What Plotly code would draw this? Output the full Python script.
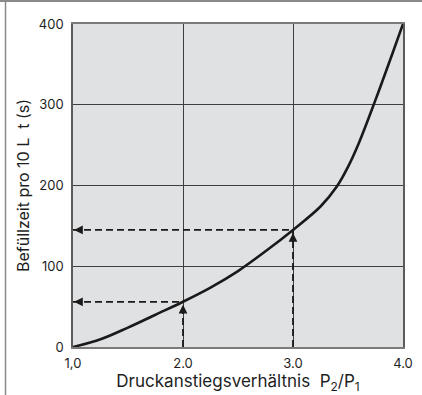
import plotly.graph_objects as go

# ---- data ----
pressure_ratio = [1.0, 1.25, 1.5, 1.75, 2.0, 2.25, 2.5, 2.75, 3.0, 3.25, 3.4, 3.5, 3.6, 3.75, 3.9, 4.0]
fill_time = [0, 9.5, 24, 40, 56, 73.5, 94, 118.5, 145, 174, 199, 223, 253, 306, 362, 400]

marked_ratio = [2.0, 3.0]
marked_time = [56, 145]

x_tickvals = [1.0, 2.0, 3.0, 4.0]
x_ticktext = ["1,0", "2.0", "3.0", "4.0"]
y_tickvals = [0, 100, 200, 300, 400]

FONT = "Inter, Liberation Sans, Arial, sans-serif"

fig = go.Figure()

# main curve
fig.add_trace(go.Scatter(
    x=pressure_ratio, y=fill_time, mode="lines",
    line=dict(color="#1a1a1a", width=2.6, shape="spline", smoothing=1.0),
    hoverinfo="skip", showlegend=False,
))

# dashed helper lines built from the marked points
hx, hy, vx, vy = [], [], [], []
for xr, t in zip(marked_ratio, marked_time):
    hx += [pressure_ratio[0], xr, None]
    hy += [t, t, None]
    vx += [xr, xr, None]
    vy += [fill_time[0], t, None]

fig.add_trace(go.Scatter(
    x=hx + vx, y=hy + vy, mode="lines",
    line=dict(color="#1a1a1a", width=1.8, dash="7px,4px"),
    hoverinfo="skip", showlegend=False,
))

annotations = []
for xr, t in zip(marked_ratio, marked_time):
    # left-pointing arrowhead at the y axis
    annotations.append(dict(x=pressure_ratio[0], y=t, xref="x", yref="y",
                            ax=10, ay=0, text="", showarrow=True,
                            arrowhead=2, arrowsize=1.1, arrowwidth=1.6,
                            arrowcolor="#1a1a1a", standoff=1))
    # upward arrowhead at the curve
    annotations.append(dict(x=xr, y=t, xref="x", yref="y",
                            ax=0, ay=10, text="", showarrow=True,
                            arrowhead=2, arrowsize=1.1, arrowwidth=1.6,
                            arrowcolor="#1a1a1a", standoff=3))

fig.update_layout(
    width=422, height=395,
    margin=dict(l=73, r=19, t=24, b=48, autoexpand=False),
    paper_bgcolor="white",
    plot_bgcolor="#e0e1e3",
    font=dict(family=FONT, size=13, color="#1e1e1e"),
    annotations=annotations,
    shapes=[
        # outer frame lines (top and left) of the picture
        dict(type="line", xref="paper", yref="paper",
             x0=-0.25, x1=1.1, y0=1.0712, y1=1.0712,
             line=dict(color="#8a8a8a", width=2)),
        dict(type="line", xref="paper", yref="paper",
             x0=-0.2045, x1=-0.2045, y0=-0.2, y1=1.08,
             line=dict(color="#8a8a8a", width=1.5)),
    ],
)

fig.update_xaxes(
    range=[1.0, 4.0], tickvals=x_tickvals, ticktext=x_ticktext,
    showgrid=True, gridcolor="#3e3e3e", gridwidth=1.1,
    showline=True, linecolor="#7a7a7a", linewidth=1.5, mirror=True,
    zeroline=False, ticks="", ticklabelstandoff=4,
    tickfont=dict(size=13),
    title=dict(text="Druckanstiegsverhältnis  P<sub>2</sub>/P<sub>1</sub>",
               font=dict(size=17), standoff=2),
    automargin=False,
)
fig.update_yaxes(
    range=[0, 400], tickvals=y_tickvals,
    showgrid=True, gridcolor="#3e3e3e", gridwidth=1.1,
    showline=True, linecolor="#5a5a5a", linewidth=1.5, mirror=True,
    zeroline=False, ticks="", ticklabelstandoff=5,
    tickfont=dict(size=13),
    title=dict(text="Befüllzeit pro 10 L  t (s)", font=dict(size=16), standoff=5),
    automargin=False,
)

fig.write_html(
    "out.html",
    config={"displayModeBar": False},
    post_script="document.body.style.margin='0';document.body.style.padding='0';",
)
